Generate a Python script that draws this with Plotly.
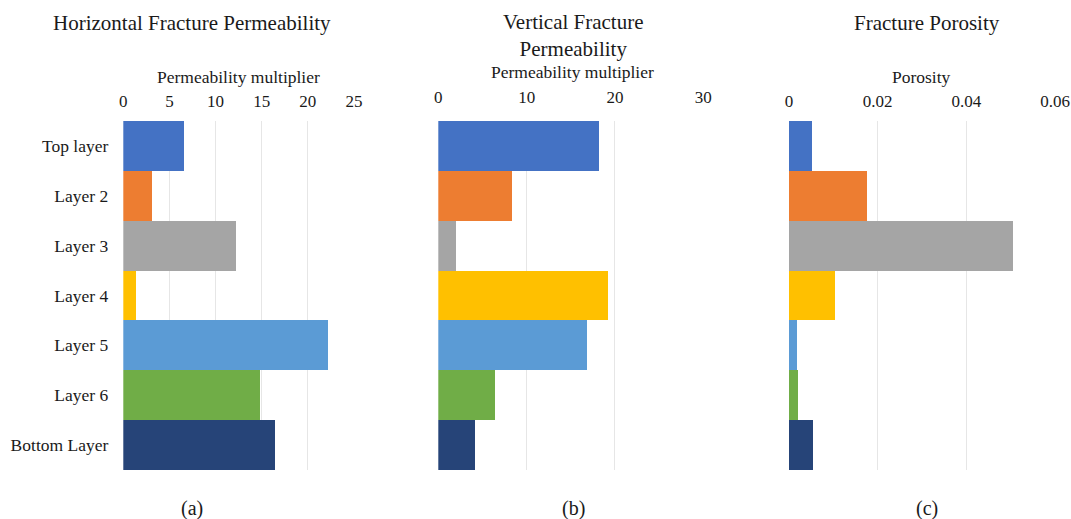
import plotly.graph_objects as go

# Layer names, top to bottom
layers = ["Top layer", "Layer 2", "Layer 3", "Layer 4", "Layer 5", "Layer 6", "Bottom Layer"]

# Fracture properties per layer
horizontal_perm_mult = [6.6, 3.1, 12.2, 1.45, 22.2, 14.85, 16.5]
vertical_perm_mult = [18.2, 8.4, 2.0, 19.3, 16.9, 6.5, 4.2]
fracture_porosity = [0.0051, 0.0175, 0.0506, 0.0104, 0.0017, 0.0021, 0.0053]

layer_colors = ["#4472C4", "#ED7D31", "#A5A5A5", "#FFC000", "#5B9BD5", "#70AD47", "#264478"]

W, H = 1071, 519
FONT = "Liberation Serif"
TXT = "#1a1a1a"

def px_x(x):
    return x / W

def px_y(y):
    return 1 - y / H

panels = [
    dict(values=horizontal_perm_mult, x0=123.3, x1=354.0, rng=[0, 25], dtick=5,
         title="Horizontal Fracture Permeability", axis_title="Permeability multiplier",
         label="(a)", standoff=10, title_y=23, axis_title_y=77,
         title_x=191.5, axis_title_x=238.5, label_x=192.0),
    dict(values=vertical_perm_mult, x0=438.3, x1=703.3, rng=[0, 30], dtick=10,
         title="Vertical Fracture<br>Permeability", axis_title="Permeability multiplier",
         label="(b)", standoff=14, title_y=36, axis_title_y=72,
         title_x=573.0, axis_title_x=572.0, label_x=573.0),
    dict(values=fracture_porosity, x0=789.0, x1=1055.0, rng=[0, 0.06], dtick=0.02,
         title="Fracture Porosity", axis_title="Porosity",
         label="(c)", standoff=10, title_y=23, axis_title_y=77,
         title_x=927.0, axis_title_x=921.7, label_x=927.0),
]

fig = go.Figure()
plot_top, plot_bottom = 121, 470

annotations = []
for i, p in enumerate(panels):
    n = "" if i == 0 else str(i + 1)
    fig.add_trace(go.Bar(
        x=p["values"], y=layers, orientation="h",
        marker=dict(color=layer_colors, line=dict(width=0)),
        xaxis="x" + n, yaxis="y" + n, showlegend=False,
    ))
    fig.update_layout(**{
        "xaxis" + n: dict(
            domain=[px_x(p["x0"]), px_x(p["x1"])], range=p["rng"], dtick=p["dtick"],
            side="top", anchor="y" + n, showgrid=True, gridcolor="#E6E6E6", gridwidth=1,
            zeroline=False, showline=False, ticks="", ticklabelstandoff=p["standoff"],
            tickfont=dict(family=FONT, size=17, color=TXT), fixedrange=True,
            automargin=False,
        ),
        "yaxis" + n: dict(
            domain=[px_y(plot_bottom), px_y(plot_top)], anchor="x" + n,
            autorange="reversed", showgrid=False, zeroline=False, showline=False,
            showticklabels=(i == 0), ticks="", ticklabelstandoff=14,
            tickfont=dict(family=FONT, size=17.5, color=TXT), fixedrange=True,
            automargin=False,
        ),
    })
    annotations.append(dict(
        text=p["title"], x=px_x(p["title_x"]), y=px_y(p["title_y"]), xref="paper", yref="paper",
        xanchor="center", yanchor="middle", showarrow=False,
        font=dict(family=FONT, size=21, color=TXT),
    ))
    annotations.append(dict(
        text=p["axis_title"], x=px_x(p["axis_title_x"]), y=px_y(p["axis_title_y"]),
        xref="paper", yref="paper", xanchor="center", yanchor="middle", showarrow=False,
        font=dict(family=FONT, size=17.5, color=TXT),
    ))
    annotations.append(dict(
        text=p["label"], x=px_x(p["label_x"]), y=px_y(508), xref="paper", yref="paper",
        xanchor="center", yanchor="middle", showarrow=False,
        font=dict(family=FONT, size=20, color=TXT),
    ))

fig.update_layout(
    width=W, height=H, margin=dict(l=0, r=0, t=0, b=0, autoexpand=False),
    paper_bgcolor="white", plot_bgcolor="white",
    bargap=0, annotations=annotations,
    font=dict(family=FONT, color=TXT),
)

fig.write_html("out.html")
